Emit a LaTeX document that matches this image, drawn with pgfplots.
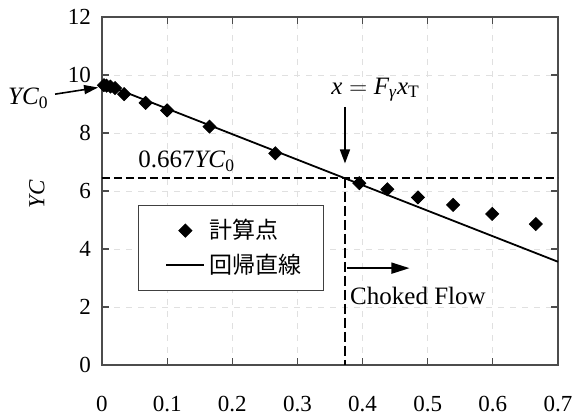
\documentclass[border=0pt]{standalone}
\usepackage{amsmath}
\usepackage{fontspec}
\setmainfont{Liberation Serif}
\newfontfamily\cjk{Noto Sans CJK JP}
\usepackage{pgfplots}
\pgfplotsset{compat=1.18}
\usetikzlibrary{arrows.meta}
\pgfplotsset{
  shortline/.style={legend image code/.code={\path (0pt,0pt) (23.5pt,0pt); \draw[##1] (4.5pt,0pt) -- (23.5pt,0pt);}},
  shortmark/.style={legend image code/.code={\path (0pt,0pt) (23.5pt,0pt); \draw[##1] plot coordinates {(14pt,0pt)};}},
}
\begin{document}
\begin{tikzpicture}
\begin{axis}[
  scale only axis, width=228pt, height=174pt,
  xmin=0, xmax=0.7, ymin=0, ymax=12,
  xtick={0,0.1,0.2,0.3,0.4,0.5,0.6,0.7},
  ytick={0,2,4,6,8,10,12},
  /pgf/number format/assume math mode=true,
  xticklabel style={/pgf/number format/fixed,/pgf/number format/precision=1, yshift=-12pt},
  yticklabel style={xshift=-2pt},
  tick label style={font=\fontsize{11.5}{13}\selectfont},
  tick align=inside, major tick length=3.5pt,
  tick style={black!70, line width=0.6pt},
  axis line style={black!70, line width=0.7pt},
  grid=major, grid style={dashed, black!12, line width=0.4pt},
  clip=false,
  ylabel={\textit{YC}},
  ylabel style={at={(axis description cs:-0.143,0.49)}, anchor=center, font=\fontsize{11.5}{13}\selectfont},
  legend style={at={(axis cs:0.0552,5.52)}, anchor=north west, draw=black!75, line width=0.5pt,
    font=\cjk\fontsize{11.5}{13}\selectfont, inner xsep=9pt, inner ysep=5pt,
    row sep=2pt, legend cell align=left},
]
\addplot[only marks, mark=square*, mark size=2.3pt, mark options={rotate=45, black}, shortmark] coordinates {
 (0.003,9.65) (0.007,9.63) (0.013,9.60) (0.02,9.55) (0.034,9.34) (0.067,9.04)
 (0.1,8.78) (0.165,8.22) (0.266,7.30) (0.395,6.27) (0.438,6.06) (0.485,5.78)
 (0.539,5.52) (0.599,5.21) (0.666,4.86)};
\addlegendentry{計算点}
\addplot[black, line width=0.9pt, shortline] coordinates {(0,9.72) (0.7,3.56)};
\addlegendentry{回帰直線}
\addplot[black, line width=0.6pt, dash pattern=on 4pt off 2pt, forget plot] coordinates {(0,6.45) (0.7,6.45)};
\addplot[black, line width=1.2pt, dash pattern=on 5pt off 2pt, forget plot] coordinates {(0.373,6.45) (0.373,0)};
\draw[black, line width=0.8pt, -{Triangle[length=7pt,width=5pt]}] (axis cs:0.373,8.9) -- (axis cs:0.373,6.95);
\draw[black, line width=0.8pt, -{Triangle[length=9pt,width=5.5pt]}] (axis cs:0.376,3.34) -- (axis cs:0.472,3.34);
\draw[black, line width=0.8pt, -{Triangle[length=7pt,width=4.5pt]}] (axis cs:-0.072,9.34) -- (axis cs:-0.006,9.57);
\node[font=\fontsize{12.5}{14}\selectfont] at (axis cs:0.42,9.5) {$\textit{x}=\textit{F}_{\textit{γ}}\textit{x}_{\textup{T}}$};
\node[font=\fontsize{12.5}{14}\selectfont] at (axis cs:0.13,7.02) {0.667\textit{YC}$_{\textup{0}}$};
\node[font=\fontsize{12.5}{14}\selectfont] at (axis cs:-0.113,9.2) {\textit{YC}$_{\textup{0}}$};
\node[font=\fontsize{12.5}{14}\selectfont] at (axis cs:0.485,2.38) {Choked Flow};
\end{axis}
\pgfresetboundingbox
\path ([shift={(-51pt,-24.5pt)}]current axis.south west) rectangle ([shift={(8pt,8.5pt)}]current axis.north east);
\end{tikzpicture}
\end{document}
